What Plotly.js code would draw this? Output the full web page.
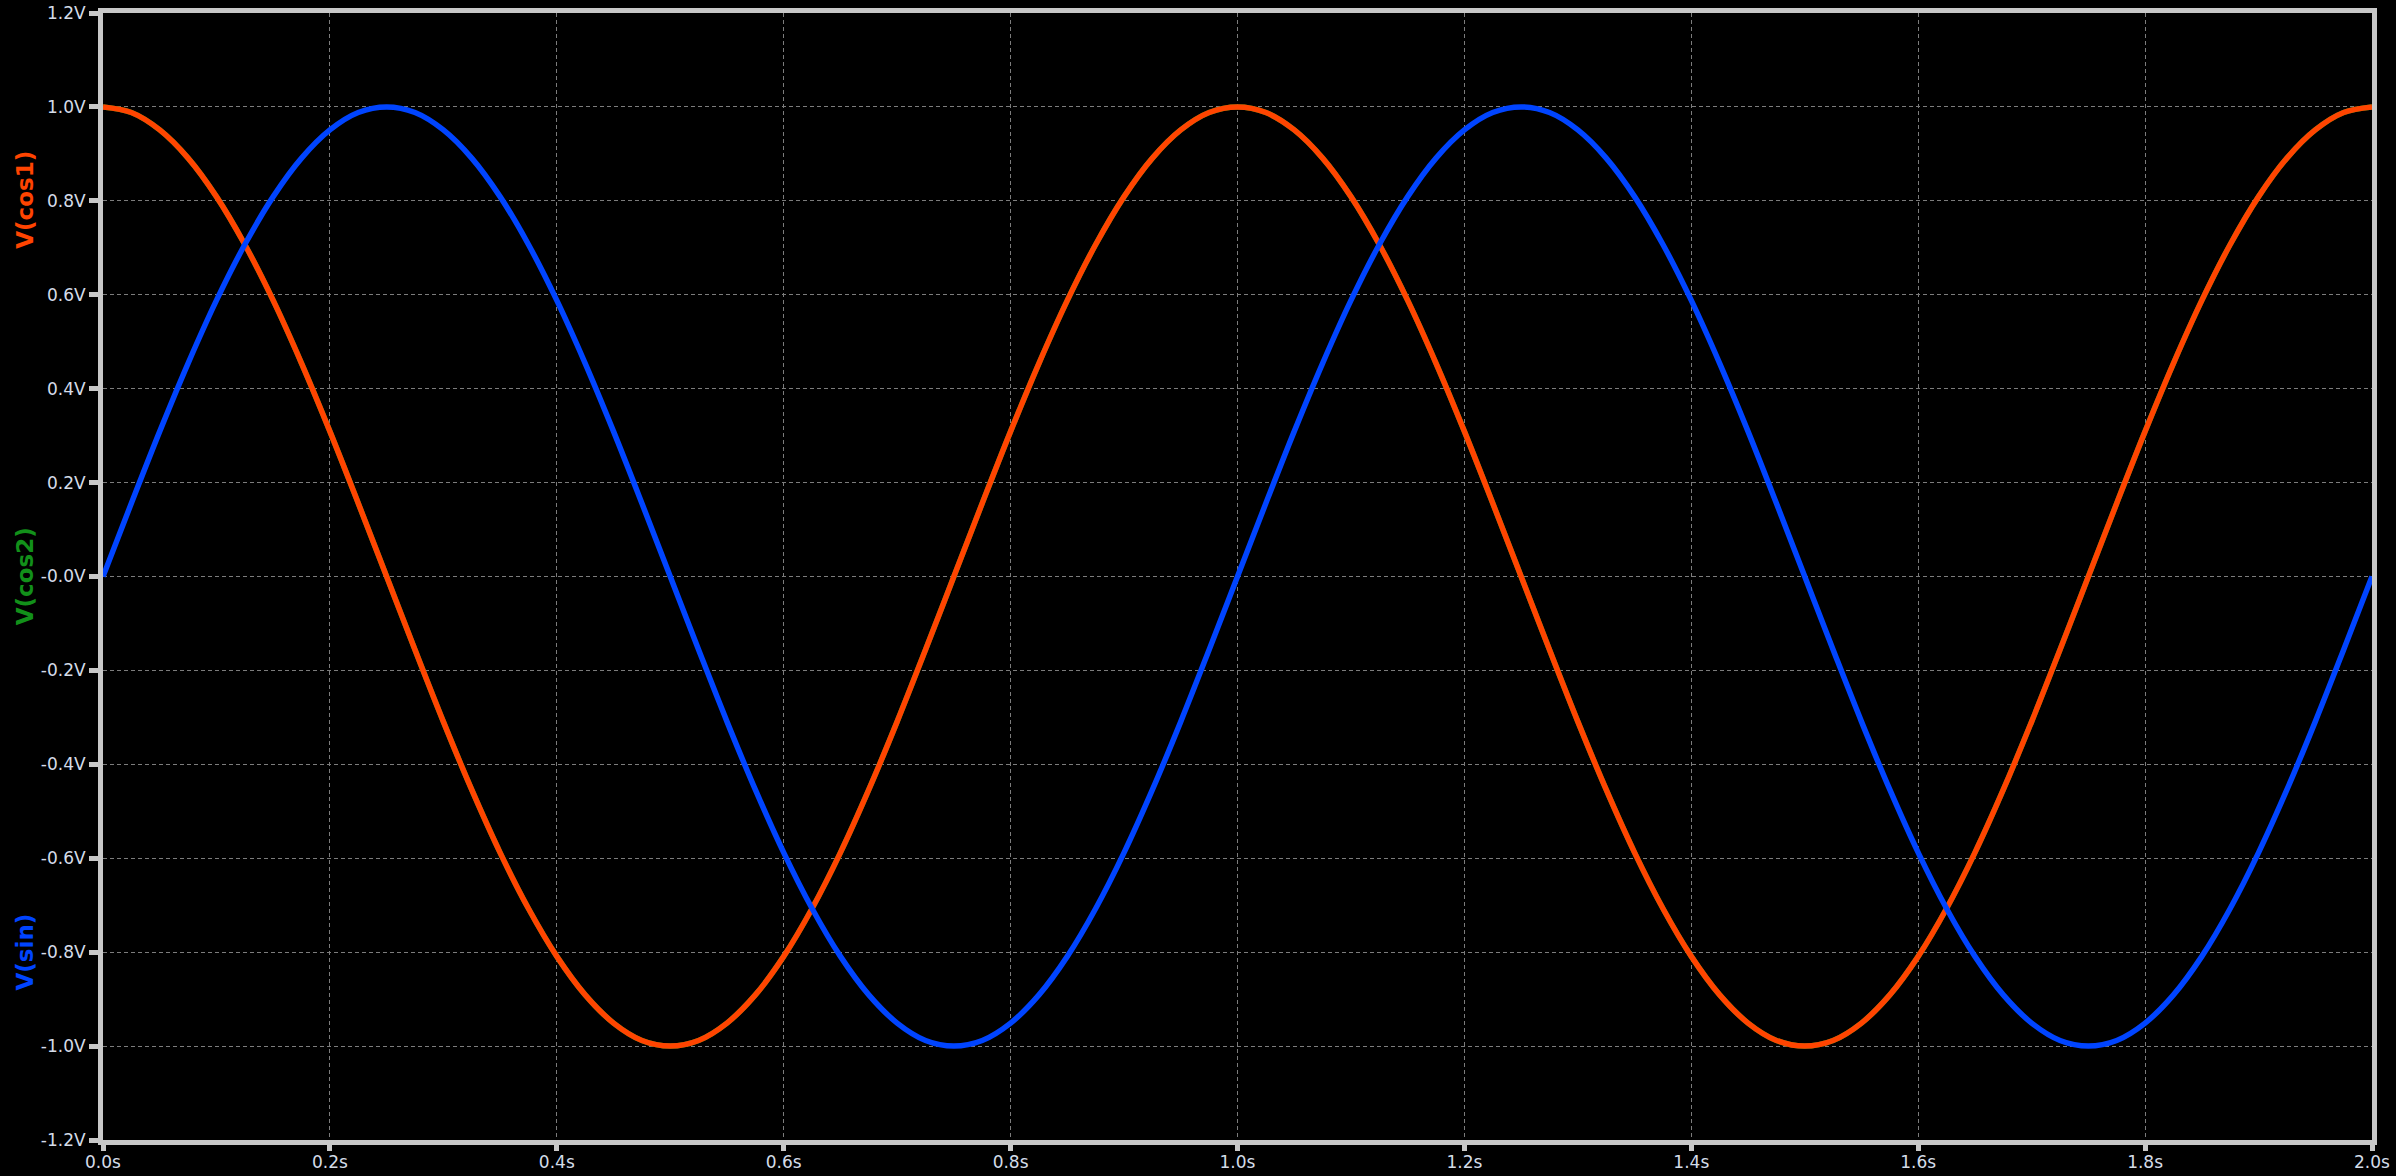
<!DOCTYPE html>
<html>
<head>
<meta charset="utf-8">
<script src="https://cdn.plot.ly/plotly-3.0.1.min.js"></script>
<style>
html,body{margin:0;padding:0;background:#000;}
#chart{width:2396px;height:1176px;}
</style>
</head>
<body>
<div id="chart"></div>
<script>
// Time axis (s)
const time = [
 0.000,0.025,0.050,0.075,0.100,0.125,0.150,0.175,0.200,0.225,
 0.250,0.275,0.300,0.325,0.350,0.375,0.400,0.425,0.450,0.475,
 0.500,0.525,0.550,0.575,0.600,0.625,0.650,0.675,0.700,0.725,
 0.750,0.775,0.800,0.825,0.850,0.875,0.900,0.925,0.950,0.975,
 1.000,1.025,1.050,1.075,1.100,1.125,1.150,1.175,1.200,1.225,
 1.250,1.275,1.300,1.325,1.350,1.375,1.400,1.425,1.450,1.475,
 1.500,1.525,1.550,1.575,1.600,1.625,1.650,1.675,1.700,1.725,
 1.750,1.775,1.800,1.825,1.850,1.875,1.900,1.925,1.950,1.975,
 2.000
];
// V(cos1) values (V)
const vCos1 = [
 1.000,0.988,0.951,0.891,0.809,0.707,0.588,0.454,0.309,0.156,
 0.000,-0.156,-0.309,-0.454,-0.588,-0.707,-0.809,-0.891,-0.951,-0.988,
 -1.000,-0.988,-0.951,-0.891,-0.809,-0.707,-0.588,-0.454,-0.309,-0.156,
 0.000,0.156,0.309,0.454,0.588,0.707,0.809,0.891,0.951,0.988,
 1.000,0.988,0.951,0.891,0.809,0.707,0.588,0.454,0.309,0.156,
 0.000,-0.156,-0.309,-0.454,-0.588,-0.707,-0.809,-0.891,-0.951,-0.988,
 -1.000,-0.988,-0.951,-0.891,-0.809,-0.707,-0.588,-0.454,-0.309,-0.156,
 0.000,0.156,0.309,0.454,0.588,0.707,0.809,0.891,0.951,0.988,
 1.000
];
// V(cos2) values (V) - coincides with V(cos1), hidden underneath
const vCos2 = vCos1.slice();
// V(sin) values (V)
const vSin = [
 0.000,0.156,0.309,0.454,0.588,0.707,0.809,0.891,0.951,0.988,
 1.000,0.988,0.951,0.891,0.809,0.707,0.588,0.454,0.309,0.156,
 0.000,-0.156,-0.309,-0.454,-0.588,-0.707,-0.809,-0.891,-0.951,-0.988,
 -1.000,-0.988,-0.951,-0.891,-0.809,-0.707,-0.588,-0.454,-0.309,-0.156,
 0.000,0.156,0.309,0.454,0.588,0.707,0.809,0.891,0.951,0.988,
 1.000,0.988,0.951,0.891,0.809,0.707,0.588,0.454,0.309,0.156,
 0.000,-0.156,-0.309,-0.454,-0.588,-0.707,-0.809,-0.891,-0.951,-0.988,
 -1.000,-0.988,-0.951,-0.891,-0.809,-0.707,-0.588,-0.454,-0.309,-0.156,
 0.000
];
// Tick labels
const xTickVals = [0.0,0.2,0.4,0.6,0.8,1.0,1.2,1.4,1.6,1.8,2.0];
const xTickText = ["0.0s","0.2s","0.4s","0.6s","0.8s","1.0s","1.2s","1.4s","1.6s","1.8s","2.0s"];
const yTickVals = [1.2,1.0,0.8,0.6,0.4,0.2,0.0,-0.2,-0.4,-0.6,-0.8,-1.0,-1.2];
const yTickText = ["1.2V","1.0V","0.8V","0.6V","0.4V","0.2V","-0.0V","-0.2V","-0.4V","-0.6V","-0.8V","-1.0V","-1.2V"];
const seriesNames = ["V(cos1)","V(cos2)","V(sin)"];
const seriesColors = ["#ff4400","#12901a","#0044ff"];

const frame = "#c8c8c8";
const labelColor = "#d4dce8";

const traces = [
  {x: time, y: vCos2, name: seriesNames[1], mode: "lines", line: {color: seriesColors[1], width: 5.5, shape: "spline"}},
  {x: time, y: vCos1, name: seriesNames[0], mode: "lines", line: {color: seriesColors[0], width: 5.5, shape: "spline"}},
  {x: time, y: vSin,  name: seriesNames[2], mode: "lines", line: {color: seriesColors[2], width: 5.5, shape: "spline"}}
];

const axisCommon = {
  showline: true, mirror: true, linecolor: frame, linewidth: 5,
  ticks: "outside", tickwidth: 5, tickcolor: frame,
  showgrid: true, gridcolor: "#7c7c7c", gridwidth: 1, griddash: "4px,3px",
  zeroline: false, fixedrange: true,
  tickfont: {family: "DejaVu Sans", size: 17, color: labelColor},
  tickmode: "array"
};

const labelY = [0.834, 0.5, 0.167];
const annotations = seriesNames.map((n, i) => ({
  text: "<b>" + n + "</b>", xref: "paper", yref: "paper",
  x: -0.0345, y: labelY[i], xanchor: "center", yanchor: "middle",
  textangle: -90, showarrow: false,
  font: {family: "DejaVu Sans", size: 23, color: seriesColors[i]}
}));

const layout = {
  width: 2396, height: 1176,
  paper_bgcolor: "#000000", plot_bgcolor: "#000000",
  margin: {l: 103, r: 24, t: 13, b: 36},
  showlegend: false,
  hovermode: false,
  xaxis: Object.assign({}, axisCommon, {range: [0, 2], ticklen: 6, tickvals: xTickVals, ticktext: xTickText, ticklabelstandoff: -3}),
  yaxis: Object.assign({}, axisCommon, {range: [-1.2, 1.2], ticklen: 9, tickvals: yTickVals, ticktext: yTickText, ticklabelstandoff: 0}),
  annotations: annotations
};

Plotly.newPlot("chart", traces, layout, {displayModeBar: false, staticPlot: true});
</script>
</body>
</html>
